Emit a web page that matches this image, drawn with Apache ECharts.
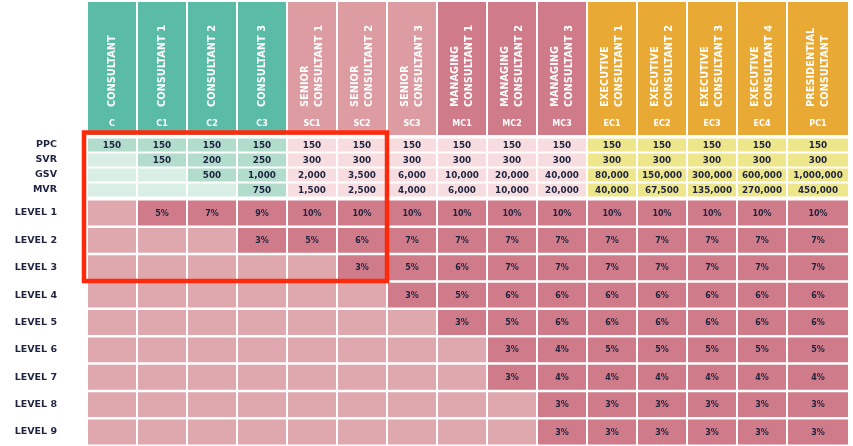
<!DOCTYPE html>
<html><head><meta charset="utf-8">
<script src="https://cdn.jsdelivr.net/npm/echarts@6/dist/echarts.min.js"></script>
<style>html,body{margin:0;padding:0;background:#fff}#c{width:853px;height:446px}</style>
</head><body><div id="c"></div>
<script>
// ---- data ----
const titles = ['CONSULTANT','CONSULTANT 1','CONSULTANT 2','CONSULTANT 3',
  'SENIOR\nCONSULTANT 1','SENIOR\nCONSULTANT 2','SENIOR\nCONSULTANT 3',
  'MANAGING\nCONSULTANT 1','MANAGING\nCONSULTANT 2','MANAGING\nCONSULTANT 3',
  'EXECUTIVE\nCONSULTANT 1','EXECUTIVE\nCONSULTANT 2','EXECUTIVE\nCONSULTANT 3','EXECUTIVE\nCONSULTANT 4',
  'PRESIDENTIAL\nCONSULTANT'];
const codes = ['C','C1','C2','C3','SC1','SC2','SC3','MC1','MC2','MC3','EC1','EC2','EC3','EC4','PC1'];
const groups = ['c','c','c','c','s','s','s','m','m','m','e','e','e','e','e'];

const metricRows = ['PPC','SVR','GSV','MVR'];
const ppc = [150,150,150,150,150,150,150,150,150,150,150,150,150,150,150];
const svr = [null,150,200,250,300,300,300,300,300,300,300,300,300,300,300];
const gsv = [null,null,500,1000,2000,3500,6000,10000,20000,40000,80000,150000,300000,600000,1000000];
const mvr = [null,null,null,750,1500,2500,4000,6000,10000,20000,40000,67500,135000,270000,450000];

const levelRows = ['LEVEL 1','LEVEL 2','LEVEL 3','LEVEL 4','LEVEL 5','LEVEL 6','LEVEL 7','LEVEL 8','LEVEL 9'];
const level1 = [null,5,7,9,10,10,10,10,10,10,10,10,10,10,10];
const level2 = [null,null,null,3,5,6,7,7,7,7,7,7,7,7,7];
const level3 = [null,null,null,null,null,3,5,6,7,7,7,7,7,7,7];
const level4 = [null,null,null,null,null,null,3,5,6,6,6,6,6,6,6];
const level5 = [null,null,null,null,null,null,null,3,5,6,6,6,6,6,6];
const level6 = [null,null,null,null,null,null,null,null,3,4,5,5,5,5,5];
const level7 = [null,null,null,null,null,null,null,null,3,4,4,4,4,4,4];
const level8 = [null,null,null,null,null,null,null,null,null,3,3,3,3,3,3];
const level9 = [null,null,null,null,null,null,null,null,null,3,3,3,3,3,3];

const metricData = [ppc, svr, gsv, mvr];
const levelData = [level1,level2,level3,level4,level5,level6,level7,level8,level9];

// ---- styles ----
const FONT = '"DejaVu Sans", sans-serif';
const DARK = '#1e2440';
const headerColor = {c:'#5abba6', s:'#dc9ca2', m:'#cf7b89', e:'#e9aa35'};
const metricFill = {c:'#b2dccc', s:'#f7dde0', m:'#f7dde0', e:'#ede68b'};
const metricEmpty = {c:'#d9efe6', s:'#f7dde0', m:'#f7dde0', e:'#ede68b'};
const levelFill = '#cf7b89', levelEmpty = '#dfa8ae';
const N = titles.length;
const xMax = 15.24;

function colSpan(api, i, r) {
  const a = api.coord([i, r])[0];
  const b = api.coord([i === N - 1 ? xMax : i + 1, r])[0];
  return [a, b - 2];
}

function headerItem(params, api) {
  const i = api.value(0);
  const xs = colSpan(api, i, 0);
  const c = api.coord([i, 0]);
  const h = api.size([0, 1])[1];
  const top = c[1] - h / 2, bottom = c[1] + h / 2;
  const cx = (xs[0] + xs[1]) / 2;
  return {type: 'group', children: [
    {type: 'rect', shape: {x: xs[0], y: top, width: xs[1] - xs[0], height: h},
      style: {fill: headerColor[groups[i]]}},
    {type: 'text', x: cx, y: bottom - 28, rotation: Math.PI / 2,
      style: {text: titles[i], fill: '#fff', fontFamily: FONT, fontWeight: 'bold', fontSize: 9.8,
        align: 'left', verticalAlign: 'middle', lineHeight: 14}},
    {type: 'text', x: cx, y: bottom - 11,
      style: {text: codes[i], fill: '#fff', fontFamily: FONT, fontWeight: 'bold', fontSize: 8,
        align: 'center', verticalAlign: 'middle'}}
  ]};
}

function metricItem(params, api) {
  const i = api.value(0), r = api.value(1);
  const v = metricData[r][i];
  const xs = colSpan(api, i, r);
  const c = api.coord([i, r]);
  const h = api.size([0, 1])[1] - 2;
  const g = groups[i];
  const children = [{type: 'rect', shape: {x: xs[0], y: c[1] - h / 2, width: xs[1] - xs[0], height: h},
    style: {fill: v == null ? metricEmpty[g] : metricFill[g]}}];
  if (v != null) children.push({type: 'text', x: (xs[0] + xs[1]) / 2, y: c[1] + 0.5,
    style: {text: v.toLocaleString('en-US'), fill: DARK, fontFamily: FONT, fontWeight: 'bold', fontSize: 8.8,
      align: 'center', verticalAlign: 'middle'}});
  return {type: 'group', children};
}

function levelItem(params, api) {
  const i = api.value(0), r = api.value(1);
  const v = levelData[r][i];
  const xs = colSpan(api, i, r);
  const c = api.coord([i, r]);
  const h = api.size([0, 1])[1] - 2.4;
  const children = [{type: 'rect', shape: {x: xs[0], y: c[1] - h / 2, width: xs[1] - xs[0], height: h},
    style: {fill: v == null ? levelEmpty : levelFill}}];
  if (v != null) children.push({type: 'text', x: (xs[0] + xs[1]) / 2, y: c[1] + 0.5,
    style: {text: v + '%', fill: DARK, fontFamily: FONT, fontWeight: 'bold', fontSize: 8,
      align: 'center', verticalAlign: 'middle'}});
  return {type: 'group', children};
}

const headerCells = titles.map((t, i) => [i, 0]);
const metricCells = [];
metricRows.forEach((m, r) => titles.forEach((t, i) => metricCells.push([i, r])));
const levelCells = [];
levelRows.forEach((m, r) => titles.forEach((t, i) => levelCells.push([i, r])));

const rowLabel = {color: DARK, fontFamily: FONT, fontWeight: 'bold', fontSize: 9.5, margin: 31};
const xAx = idx => ({type: 'value', gridIndex: idx, min: 0, max: xMax, show: false});
const yAx = (idx, data, show) => ({type: 'category', gridIndex: idx, data, inverse: true,
  axisLine: {show: false}, axisTick: {show: false}, splitLine: {show: false},
  axisLabel: Object.assign({show: show}, rowLabel)});

const chart = echarts.init(document.getElementById('c'), null, {renderer: 'canvas'});
chart.setOption({
  animation: false,
  backgroundColor: '#fff',
  grid: [
    {left: 88, right: 3, top: 2, height: 133},
    {left: 88, right: 3, top: 137.5, height: 60},
    {left: 88, right: 3, top: 199.3, height: 246.4}
  ],
  xAxis: [xAx(0), xAx(1), xAx(2)],
  yAxis: [yAx(0, ['header'], false), yAx(1, metricRows, true), yAx(2, levelRows, true)],
  series: [
    {type: 'custom', xAxisIndex: 0, yAxisIndex: 0, renderItem: headerItem, data: headerCells, encode: {x: 0, y: 1}},
    {type: 'custom', xAxisIndex: 1, yAxisIndex: 1, renderItem: metricItem, data: metricCells, encode: {x: 0, y: 1}},
    {type: 'custom', xAxisIndex: 2, yAxisIndex: 2, renderItem: levelItem, data: levelCells, encode: {x: 0, y: 1}}
  ]
});

// highlight box around C..SC2, PPC..LEVEL 3
const tl = chart.convertToPixel({xAxisIndex: 1, yAxisIndex: 1}, [0, 0]);
const br = chart.convertToPixel({xAxisIndex: 2, yAxisIndex: 2}, [6, 2]);
const lvlPitch = chart.convertToPixel({xAxisIndex: 2, yAxisIndex: 2}, [0, 1])[1] -
                 chart.convertToPixel({xAxisIndex: 2, yAxisIndex: 2}, [0, 0])[1];
const boxL = tl[0] - 4, boxT = tl[1] - 12.5, boxR = br[0] - 1, boxB = br[1] + lvlPitch / 2 - 0.5;
chart.setOption({graphic: [{type: 'rect', z: 100,
  shape: {x: boxL, y: boxT, width: boxR - boxL, height: boxB - boxT},
  style: {fill: 'none', stroke: '#ff2a0c', lineWidth: 4.5}}]});
</script></body></html>
